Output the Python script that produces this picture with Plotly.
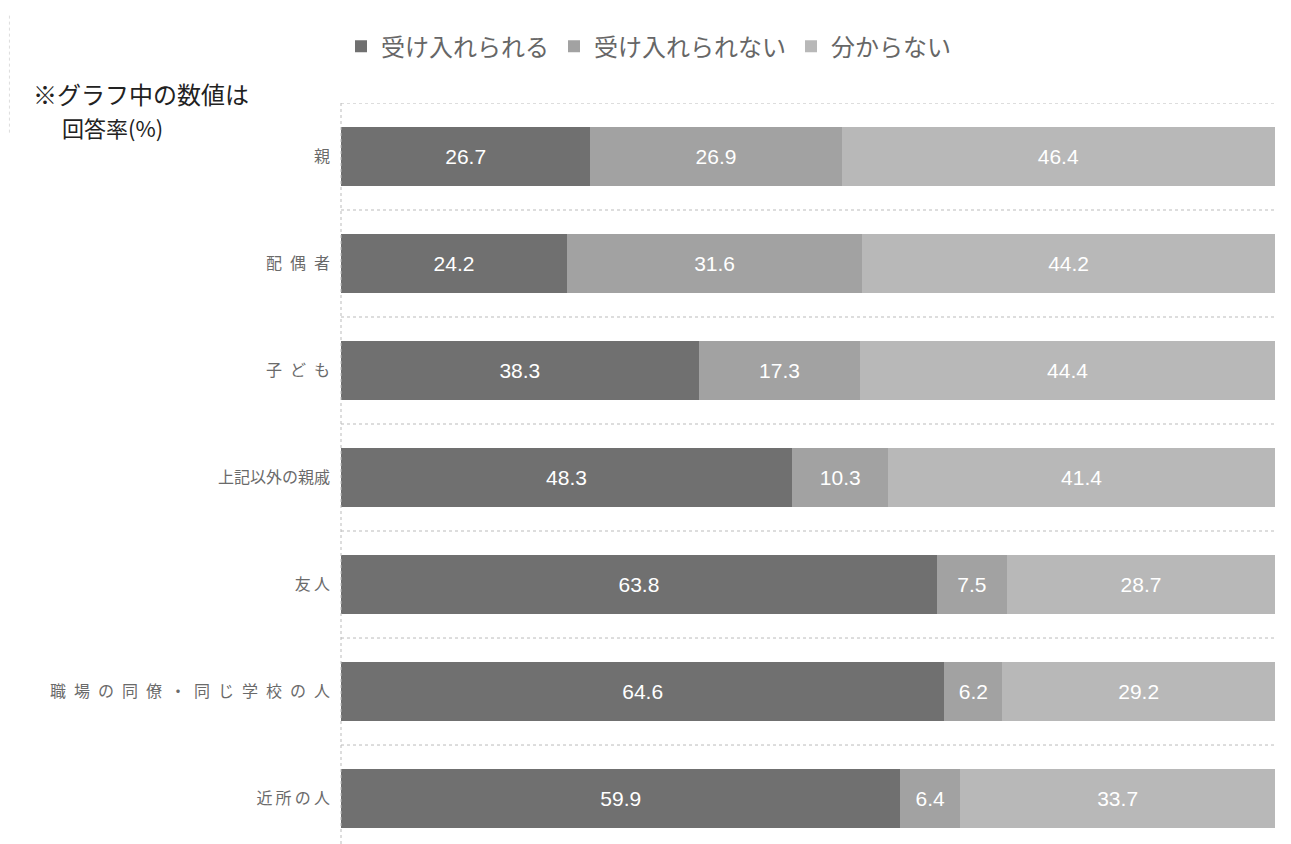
import plotly.graph_objects as go

categories = ["親", "配偶者", "子ども", "上記以外の親戚", "友人", "職場の同僚・同じ学校の人", "近所の人"]
accept = [26.7, 24.2, 38.3, 48.3, 63.8, 64.6, 59.9]
reject = [26.9, 31.6, 17.3, 10.3, 7.5, 6.2, 6.4]
unknown = [46.4, 44.2, 44.4, 41.4, 28.7, 29.2, 33.7]

# letter spacing used for each category label
label_gaps = ["", "\u2002", "\u2002", "", "\u2009", "\u2002", "\u2009"]
tick_text = [gap.join(list(c)) for c, gap in zip(categories, label_gaps)]

series = [
    ("受け入れられる", accept, "#707070"),
    ("受け入れられない", reject, "#a2a2a2"),
    ("分からない", unknown, "#b8b8b8"),
]

fig = go.Figure()
for name, vals, color in series:
    fig.add_trace(go.Bar(
        y=categories, x=vals, name=name, orientation="h",
        marker=dict(color=color, line=dict(width=0)),
        text=[f"{v:.1f}" for v in vals],
        textposition="inside", insidetextanchor="middle",
        textfont=dict(family="Liberation Sans, Arial, sans-serif", size=21, color="white"),
        width=0.55,
    ))

# dotted separators between categories
shapes = []
for i in range(len(categories)):
    shapes.append(dict(type="line", xref="paper", yref="y", x0=0, x1=1,
                       y0=i - 0.5, y1=i - 0.5,
                       line=dict(color="#bbbbbb", width=1, dash="dot")))
shapes.append(dict(type="line", xref="paper", yref="paper", x0=0, x1=0, y0=0, y1=1.0,
                   line=dict(color="#bbbbbb", width=1, dash="dot")))
shapes.append(dict(type="line", xref="paper", yref="paper", x0=-0.355, x1=-0.355, y0=0.96, y1=1.12,
                   line=dict(color="#dddddd", width=1, dash="dot")))

fig.update_layout(
    width=1291, height=844,
    margin=dict(l=341, r=16, t=103, b=0),
    paper_bgcolor="white", plot_bgcolor="white",
    barmode="stack",
    bargap=0.45,
    font=dict(family="Noto Sans CJK JP, sans-serif", color="#555555"),
    showlegend=True,
    legend=dict(orientation="h", x=0.0, xanchor="left", y=1.076, yanchor="middle",
                font=dict(size=24, color="#666666"), itemwidth=30,
                traceorder="normal", itemsizing="constant"),
    xaxis=dict(range=[0, 100], visible=False, fixedrange=True),
    yaxis=dict(categoryorder="array", categoryarray=categories,
               tickvals=categories, ticktext=tick_text,
               range=[6.425, -0.5], showgrid=False, zeroline=False,
               ticks="", ticklabelstandoff=10,
               tickfont=dict(size=16, color="#6a6a6a")),
    shapes=shapes,
    annotations=[
        dict(text="※グラフ中の数値は", xref="paper", yref="paper",
             x=-0.332, y=0.9865, xanchor="left", yanchor="bottom",
             showarrow=False,
             font=dict(size=24, color="#222222", family="Noto Sans CJK JP, sans-serif")),
        dict(text="回答率(%)", xref="paper", yref="paper",
             x=-0.301, y=0.992, xanchor="left", yanchor="top",
             showarrow=False,
             font=dict(size=22, color="#222222", family="Noto Sans CJK JP, sans-serif")),
    ],
)

fig.write_html("out.html")
